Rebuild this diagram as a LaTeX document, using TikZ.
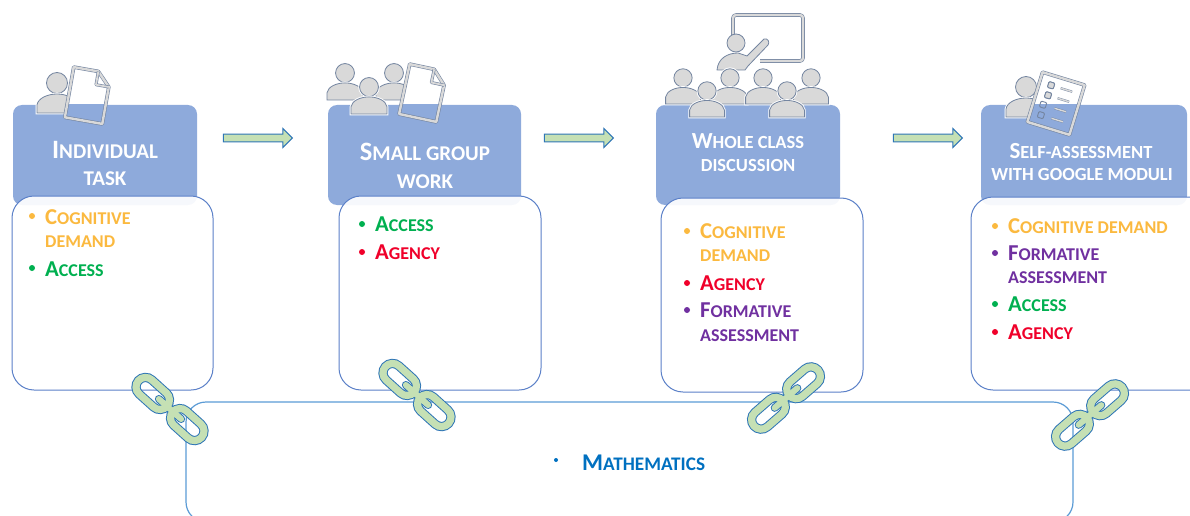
\documentclass[tikz,border=0pt]{standalone}
\usepackage{fontspec}
\setmainfont{Carlito}
\usetikzlibrary{shapes.arrows}
\definecolor{headblue}{HTML}{8EAADB}
\definecolor{bodyline}{HTML}{5B80C8}
\definecolor{mathline}{HTML}{5B9BD5}
\definecolor{arrowline}{HTML}{2E75B6}
\definecolor{linkgreen}{HTML}{C5E0B4}
\definecolor{iconfill}{HTML}{D9D9D9}
\definecolor{iconline}{HTML}{7485A0}
\definecolor{cogcol}{HTML}{FBB93F}
\definecolor{acccol}{HTML}{00B050}
\definecolor{agecol}{HTML}{F0002A}
\definecolor{forcol}{HTML}{7030A0}
\definecolor{matcol}{HTML}{0070C0}
\newcommand{\listcaps}[2]{{\fontsize{22.7}{24}\selectfont #1}{\fontsize{18}{24}\selectfont #2}}
\newcommand{\headcaps}[2]{{\fontsize{26.5}{28}\selectfont #1}{\fontsize{21}{28}\selectfont #2}}
\newcommand{\minicaps}[2]{{\fontsize{23}{24}\selectfont #1}{\fontsize{18.5}{24}\selectfont #2}}
\newcommand{\mathcaps}[2]{{\fontsize{24}{24}\selectfont #1}{\fontsize{19.2}{24}\selectfont #2}}
\newcommand{\seethrough}[4]{
  \pic[rotate=#1, fill=white] at (#2) {#3};
  \begin{scope}
    \clip (0,105) rectangle (1190,205);
    \pic[rotate=#1, fill=headblue] at (#2) {#3};
  \end{scope}
  \pic[rotate=#1] at (#2) {#4};
}
\tikzset{
  header/.style={fill=headblue, rounded corners=9pt},
  bodybox/.style={draw=bodyline, line width=1pt, fill=white, fill opacity=.92, rounded corners=22pt},
  flow/.style={single arrow, draw=arrowline, fill=linkgreen, line width=1pt, minimum width=19pt, minimum height=69pt, single arrow head extend=3pt, single arrow head indent=0pt, inner sep=1.5pt, outer sep=0pt},
  htext/.style={text=white, font=\bfseries, inner sep=0pt, anchor=center},
  item/.style={font=\bfseries, inner sep=0pt, anchor=west},
  dot/.style={circle, inner sep=0pt, minimum size=6pt},
  band/.style={iconline, line width=.6pt, double=iconfill, double distance=2.4pt, line join=round},
  person/.pic={
    \draw[white, line width=2.6pt, fill=iconfill] (0,-30) circle (10.5);
    \draw[iconline, line width=.8pt, fill=iconfill] (0,-30) circle (10.5);
    \draw[white, line width=2.6pt, fill=iconfill] (-20,0) -- (-20,-8) .. controls (-19,-15) and (-9,-19) .. (0,-19) .. controls (9,-19) and (19,-15) .. (20,-8) -- (20,0) -- cycle;
    \draw[iconline, line width=.8pt, fill=iconfill] (-20,0) -- (-20,-8) .. controls (-19,-15) and (-9,-19) .. (0,-19) .. controls (9,-19) and (19,-15) .. (20,-8) -- (20,0) -- cycle;
  },
  sheet/.pic={
    \path[pic actions] (-19,-25.5) -- (6,-25.5) -- (19,-12) -- (19,25.5) -- (-19,25.5) -- cycle;
  },
  paper/.pic={
    \draw[band] (-19,-25.5) -- (6,-25.5) -- (19,-12) -- (19,25.5) -- (-19,25.5) -- cycle;
    \draw[band, double distance=1.8pt] (6,-25.5) -- (6,-12) -- (19,-12);
  },
  boardback/.pic={
    \path[pic actions] (-22,-26) rectangle (22,26);
  },
  checklist/.pic={
    \draw[band] (-22,-26) rectangle (22,26);
    \foreach \y/\xa in {-16/-10,-5.5/-10,5/-12,15.5/-11}{
      \draw[iconline, line width=.9pt, rounded corners=1pt] (\xa-3,\y-3) rectangle (\xa+3,\y+3);
      \draw[iconline, line width=.4pt, double=iconfill, double distance=1.4pt] (0,\y) -- (12,\y);
    }
    \draw[iconline, line width=.9pt, fill=iconfill, rounded corners=1pt] (-13,-19) rectangle (-7,-13);
    \draw[iconline, line width=.9pt, fill=iconfill, rounded corners=1pt] (-13,-8.5) rectangle (-7,-2.5);
  },
  chain/.pic={
    \foreach \wd/\sw/\col in {9.2/8/arrowline, 7.2/6/linkgreen}{
      \draw[\col, line width=\wd pt, rounded corners=9.5pt] (-42.5,-9.5) rectangle (-4,9.5);
      \draw[\col, line width=\wd pt, rounded corners=9.5pt] (4,-9.5) rectangle (42.5,9.5);
      \draw[\col, line width=\sw pt, line cap=round] (-15,0) -- (15,0);
    }
  }
}
\begin{document}
\begin{tikzpicture}[x=1pt, y=-1pt]
\useasboundingbox (0,0) rectangle (1190,516);
\clip (0,0) rectangle (1190,516);

\fill[header] (13,105) rectangle (197,205);
\fill[header] (328,105) rectangle (521,205);
\fill[header] (656,105) rectangle (840,205);
\fill[header] (981,105) rectangle (1187,205);

\draw[bodybox] (12,196) rectangle (213,390);
\draw[bodybox] (339,196) rectangle (541,390);
\draw[bodybox] (661,198) rectangle (863,392);
\draw[bodybox] (971,197) rectangle (1215,390);
\draw[draw=mathline, line width=1.2pt, rounded corners=20pt] (186,402) rectangle (1073,522);

\node[flow] (flow1) at (256,138) {};
\node[flow] (flow2) at (577,138) {};
\node[flow] (flow3) at (926,138) {};

% icons
\pic at (57,113) {person};
\seethrough{-10}{88,95.5}{sheet}{paper}

\pic[scale=.9] at (345,100) {person};
\pic[scale=.9] at (394,100) {person};
\pic[scale=.9] at (369,114) {person};
\seethrough{-12}{423,93}{sheet}{paper}

\draw[band, rounded corners=3pt] (733,45) -- (733,15) -- (803,15) -- (803,61) -- (760,61);
\draw[iconline, line width=.8pt, fill=iconfill] (736,43) circle (9);
\draw[iconline, line width=.8pt, fill=iconfill, line join=round] (717,70) .. controls (718,58) and (728,53) .. (738,53) -- (747,56) -- (764,39) .. controls (768,38) and (770,42) .. (768,45) -- (748,66) -- (745,70) -- cycle;
\pic[scale=.87] at (683,104) {person};
\pic[scale=.87] at (811,104) {person};
\pic[scale=.87] at (730,104) {person};
\pic[scale=.87] at (763,104) {person};
\pic[scale=.87] at (707,117) {person};
\pic[scale=.87] at (787,117) {person};

\pic at (1026,117) {person};
\seethrough{-17}{1056,103.5}{boardback}{checklist}

% header labels
\node[htext] (head1a) at (105,150) {\headcaps{I}{NDIVIDUAL}};
\node[htext] (head1b) at (105,179) {\headcaps{}{TASK}};
\node[htext] (head2a) at (425,152) {\headcaps{S}{MALL GROUP}};
\node[htext] (head2b) at (425,182) {\headcaps{}{WORK}};
\node[htext] (head3a) at (748,141) {\minicaps{W}{HOLE CLASS}};
\node[htext] (head3b) at (748,166) {\minicaps{}{DISCUSSION}};
\node[htext] (head4a) at (1081,151) {\minicaps{S}{ELF-ASSESSMENT}};
\node[htext] (head4b) at (1082,175) {\minicaps{}{WITH GOOGLE MODULI}};

% first list
\node[dot, fill=cogcol] (d1a) at (32,216) {};
\node[item, text=cogcol] (t1a) at (45,217) {\listcaps{C}{OGNITIVE}};
\node[item, text=cogcol] (t1b) at (45,242) {\listcaps{}{DEMAND}};
\node[dot, fill=acccol] (d1c) at (32,268) {};
\node[item, text=acccol] (t1c) at (45,269) {\listcaps{A}{CCESS}};

% second list
\node[dot, fill=acccol] (d2a) at (362,224) {};
\node[item, text=acccol] (t2a) at (375,224) {\listcaps{A}{CCESS}};
\node[dot, fill=agecol] (d2b) at (362,252) {};
\node[item, text=agecol] (t2b) at (375,252) {\listcaps{A}{GENCY}};

% third list
\node[dot, fill=cogcol] (d3a) at (687,231) {};
\node[item, text=cogcol] (t3a) at (700,231) {\listcaps{C}{OGNITIVE}};
\node[item, text=cogcol] (t3b) at (700,256) {\listcaps{}{DEMAND}};
\node[dot, fill=agecol] (d3c) at (687,283) {};
\node[item, text=agecol] (t3c) at (700,283) {\listcaps{A}{GENCY}};
\node[dot, fill=forcol] (d3d) at (687,310) {};
\node[item, text=forcol] (t3d) at (700,310) {\listcaps{F}{ORMATIVE}};
\node[item, text=forcol] (t3e) at (700,336) {\listcaps{}{ASSESSMENT}};

% fourth list
\node[dot, fill=cogcol] (d4a) at (995,226) {};
\node[item, text=cogcol] (t4a) at (1008,226) {\listcaps{C}{OGNITIVE DEMAND}};
\node[dot, fill=forcol] (d4b) at (995,253) {};
\node[item, text=forcol] (t4b) at (1008,253) {\listcaps{F}{ORMATIVE}};
\node[item, text=forcol] (t4c) at (1008,278) {\listcaps{}{ASSESSMENT}};
\node[dot, fill=acccol] (d4d) at (995,304) {};
\node[item, text=acccol] (t4d) at (1008,304) {\listcaps{A}{CCESS}};
\node[dot, fill=agecol] (d4e) at (995,332) {};
\node[item, text=agecol] (t4e) at (1008,332) {\listcaps{A}{GENCY}};

\node[dot, minimum size=4pt, fill=matcol] (d5) at (556,460) {};
\node[item, text=matcol] (t5) at (582,463) {\mathcaps{M}{ATHEMATICS}};

% links
\pic[rotate=-42] at (170,409) {chain};
\pic[rotate=-42] at (417,395) {chain};
\pic[rotate=41] at (786,398) {chain};
\pic[rotate=41] at (1090,415) {chain};
\end{tikzpicture}
\end{document}
